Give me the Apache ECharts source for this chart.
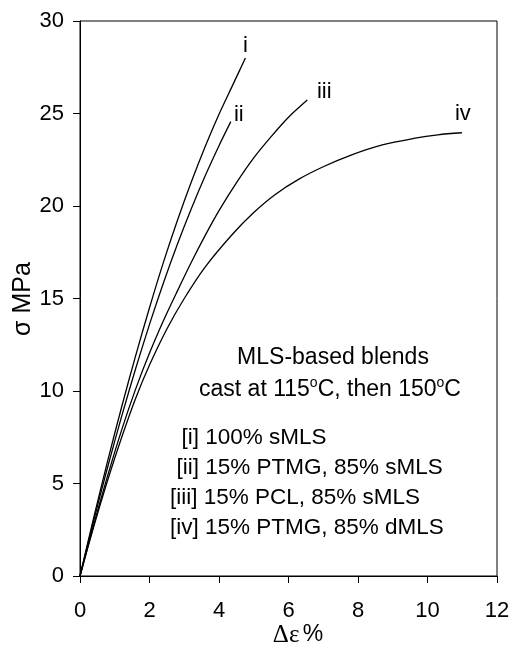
<!DOCTYPE html>
<html>
<head>
<meta charset="utf-8">
<script src="https://cdn.jsdelivr.net/npm/echarts@6/dist/echarts.min.js"></script>
<style>
html,body{margin:0;padding:0;background:#fff;}
#c{width:515px;height:646px;}
</style>
</head>
<body>
<div id="c"></div>
<script>
// Data (strain %, stress MPa)
const curveI = [[0,0],[0.4,3.2],[0.8,6.25],[1.2,9.15],[1.6,11.9],[2.0,14.5],[2.4,16.95],[2.8,19.2],[3.2,21.28],[3.6,23.2],[4.0,24.96],[4.4,26.56],[4.76,28.0]];
const curveII = [[0,0],[0.4,3.04],[0.8,5.92],[1.2,8.64],[1.6,11.2],[2.0,13.6],[2.4,15.84],[2.8,17.92],[3.2,19.84],[3.6,21.62],[4.0,23.26],[4.34,24.56]];
const curveIII = [[0,0],[0.4,2.8],[0.8,5.45],[1.2,7.9],[1.6,10.1],[2.0,12.05],[2.4,13.8],[2.8,15.4],[3.2,16.95],[3.6,18.4],[4.0,19.75],[4.5,21.25],[5.0,22.6],[5.5,23.75],[6.0,24.8],[6.54,25.73]];
const curveIV = [[0,0],[0.4,2.7],[0.8,5.2],[1.2,7.5],[1.6,9.6],[2.0,11.4],[2.5,13.35],[3.0,15.0],[3.6,16.7],[4.4,18.5],[5.0,19.65],[5.6,20.6],[6.3,21.45],[7.0,22.12],[7.8,22.75],[8.7,23.3],[9.6,23.65],[10.3,23.85],[10.99,23.96]];
const curves = [curveI, curveII, curveIII, curveIV];
const curveNames = ['i','ii','iii','iv'];
const xTicks = [0,2,4,6,8,10,12];
const yTicks = [0,5,10,15,20,25,30];
const legendLines = ['[i] 100% sMLS','[ii] 15% PTMG, 85% sMLS','[iii] 15% PCL, 85% sMLS','[iv] 15% PTMG, 85% dMLS'];

const SANS = '"Liberation Sans", Arial, sans-serif';
const SERIF = '"Liberation Serif", "Times New Roman", serif';

function mk(data){
  return {type:'line', data:data, showSymbol:false, symbol:'none', smooth:0.3,
    lineStyle:{color:'#000', width:1.3}, silent:true, z:3};
}

const chart = echarts.init(document.getElementById('c'), null, {renderer:'canvas'});
const baseGraphics = [
  {type:'text', x:23, y:299, rotation:Math.PI/2, style:{text:'σ MPa', fill:'#000', font:'25px '+SANS, textAlign:'center', textVerticalAlign:'middle'}},
  {type:'text', x:298, y:635, style:{rich:{s:{fontFamily:SERIF, fontSize:25, fill:'#000'}, p:{fontFamily:SANS, fontSize:23, fill:'#000'}}, text:'{s|Δε} {p|%}', textAlign:'center', textVerticalAlign:'middle'}},
  {type:'text', x:333, y:358, style:{text:'MLS-based blends', fill:'#000', font:'23px '+SANS, textAlign:'center', textVerticalAlign:'middle'}},
  {type:'text', x:330, y:390, style:{rich:{n:{fontFamily:SANS, fontSize:23, fill:'#000'}, u:{fontFamily:SANS, fontSize:14, fill:'#000', padding:[0,0,14,0]}}, text:'{n|cast at 115}{u|o}{n|C, then 150}{u|o}{n|C}', textAlign:'center', textVerticalAlign:'middle'}},
  {type:'text', x:181.5, y:438, style:{text:legendLines[0], fill:'#000', font:'22.5px '+SANS, textAlign:'left', textVerticalAlign:'middle'}},
  {type:'text', x:176.5, y:468, style:{text:legendLines[1], fill:'#000', font:'22.5px '+SANS, textAlign:'left', textVerticalAlign:'middle'}},
  {type:'text', x:170, y:498, style:{text:legendLines[2], fill:'#000', font:'22.5px '+SANS, textAlign:'left', textVerticalAlign:'middle'}},
  {type:'text', x:170, y:528, style:{text:legendLines[3], fill:'#000', font:'22.5px '+SANS, textAlign:'left', textVerticalAlign:'middle'}}
];
chart.setOption({
  animation:false,
  backgroundColor:'#fff',
  grid:{left:80, right:18, top:21, bottom:70, show:true, borderColor:'#000', borderWidth:1, backgroundColor:'transparent'},
  xAxis:{type:'value', min:xTicks[0], max:xTicks[xTicks.length-1], interval:2,
    axisLine:{show:true, onZero:false, lineStyle:{color:'#000', width:1}},
    axisTick:{show:true, inside:false, length:7, lineStyle:{color:'#000'}},
    axisLabel:{color:'#000', fontFamily:SANS, fontSize:22, margin:24},
    splitLine:{show:false}},
  yAxis:{type:'value', min:yTicks[0], max:yTicks[yTicks.length-1], interval:5,
    axisLine:{show:true, onZero:false, lineStyle:{color:'#000', width:1}},
    axisTick:{show:true, inside:false, length:7, lineStyle:{color:'#000'}},
    axisLabel:{color:'#000', fontFamily:SANS, fontSize:22, margin:16},
    splitLine:{show:false}},
  series:curves.map(mk),
  graphic:baseGraphics
});
// curve-end labels placed from the last data point of each curve
const labelOffsets = [[0,-12],[8,-7],[17,-8],[1,-19]];
const endLabels = curves.map((c,i)=>{
  const p = chart.convertToPixel({gridIndex:0}, c[c.length-1]);
  return {type:'text', x:p[0]+labelOffsets[i][0], y:p[1]+labelOffsets[i][1],
    style:{text:curveNames[i], fill:'#000', font:'22px '+SANS, textAlign:'center', textVerticalAlign:'middle'}};
});
chart.setOption({graphic:baseGraphics.concat(endLabels)});
</script>
</body>
</html>
